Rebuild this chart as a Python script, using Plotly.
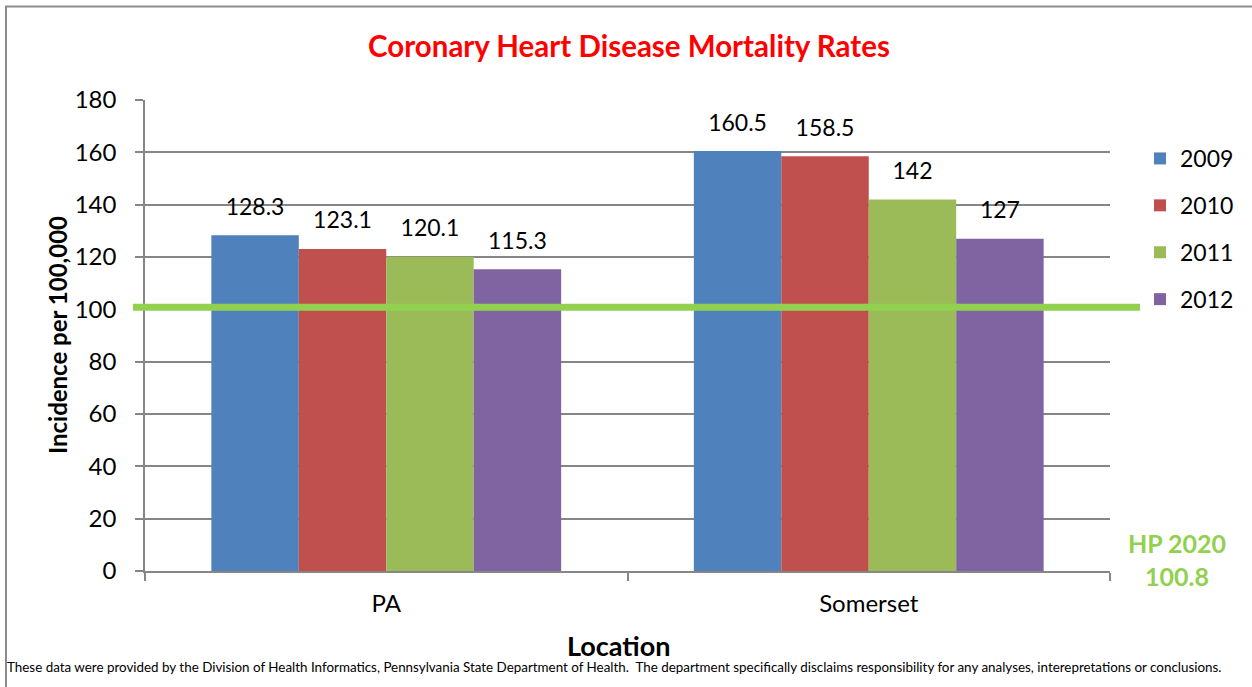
import plotly.graph_objects as go

# Mortality rates per 100,000 by location and year
locations = ["PA", "Somerset"]
years = ["2009", "2010", "2011", "2012"]
rates = {
    "2009": [128.3, 160.5],
    "2010": [123.1, 158.5],
    "2011": [120.1, 142],
    "2012": [115.3, 127],
}
colors = {"2009": "#4F81BD", "2010": "#C0504D", "2011": "#9BBB59", "2012": "#8064A2"}

hp2020_target = 100.8
y_ticks = [0, 20, 40, 60, 80, 100, 120, 140, 160, 180]

W, H = 1252, 687
L, R, T, B = 145, 1110, 100, 571  # plot area in pixels
pw, ph = R - L, B - T


def px_x(x):
    return (x - L) / pw


def px_y(y):
    return (B - y) / ph


FONT = "Lato, Open Sans, sans-serif"

fig = go.Figure()
for yr in years:
    fig.add_trace(go.Bar(
        x=locations, y=rates[yr], name=yr,
        marker=dict(color=colors[yr], line=dict(width=0)),
        offsetgroup=yr, legendgroup=yr,
    ))
# value labels placed above each bar
for yr in years:
    fig.add_trace(go.Scatter(
        x=locations, y=rates[yr], mode="markers+text",
        text=[f"{v:g}" for v in rates[yr]], textposition="top center",
        textfont=dict(size=23, color="#000000", family=FONT),
        marker=dict(size=22, color="rgba(0,0,0,0)"),
        offsetgroup=yr, showlegend=False, hoverinfo="skip",
    ))

fig.update_layout(
    width=W, height=H,
    margin=dict(l=L, r=W - R, t=T, b=H - B),
    paper_bgcolor="white", plot_bgcolor="white",
    barmode="group", bargap=0.275, bargroupgap=0,
    scattermode="group", scattergap=0.275,
    font=dict(family=FONT, size=20, color="#000000"),
    showlegend=True,
    legend=dict(
        x=px_x(1140), y=px_y(137), xanchor="left", yanchor="top",
        font=dict(size=23, family=FONT), tracegroupgap=14,
        itemwidth=30, bgcolor="rgba(0,0,0,0)",
    ),
    title=dict(
        text="<b>Coronary Heart Disease Mortality Rates</b>",
        x=px_x(629), xref="paper", y=1 - 47 / H, yref="container",
        xanchor="center", yanchor="middle",
        font=dict(size=29.5, color="#FF0000", family=FONT),
    ),
)

fig.update_xaxes(
    showline=True, linecolor="#868686", linewidth=1.5,
    ticks="outside", tickson="boundaries", ticklen=8, tickcolor="#868686", tickwidth=1.5,
    ticklabelstandoff=10, tickfont=dict(size=24, family=FONT),
    showgrid=False, zeroline=False,
)
fig.update_yaxes(
    range=[0, 180], tickvals=y_ticks,
    showline=True, linecolor="#868686", linewidth=1.5,
    ticks="outside", ticklen=8, tickcolor="#868686", tickwidth=1.5,
    ticklabelstandoff=14, tickfont=dict(size=24, family=FONT),
    showgrid=True, gridcolor="#868686", gridwidth=1.5, zeroline=False,
)

# outer chart border
fig.add_shape(type="rect", xref="paper", yref="paper",
              x0=px_x(6), x1=px_x(W + 20), y0=px_y(H + 20), y1=px_y(6.5),
              line=dict(color="#8C8C8C", width=2), fillcolor="rgba(0,0,0,0)", layer="below")

# Healthy People 2020 target line
fig.add_shape(type="line", xref="paper", yref="y",
              x0=px_x(133), x1=px_x(1140), y0=hp2020_target, y1=hp2020_target,
              line=dict(color="#92D050", width=7), layer="above")

fig.add_annotation(
    text=f"<b>HP 2020<br>{hp2020_target}</b>", xref="paper", yref="paper",
    x=px_x(1177), y=px_y(559), xanchor="center", yanchor="middle", showarrow=False,
    font=dict(size=25, color="#92D050", family=FONT),
)
fig.add_annotation(
    text="<b>Incidence per 100,000</b>", xref="paper", yref="paper",
    x=px_x(57), y=px_y(335), xanchor="center", yanchor="middle", textangle=-90,
    showarrow=False, font=dict(size=24, family=FONT),
)
fig.add_annotation(
    text="<b>Location</b>", xref="paper", yref="paper",
    x=px_x(618), y=px_y(645), xanchor="center", yanchor="middle",
    showarrow=False, font=dict(size=27, family=FONT),
)
fig.add_annotation(
    text=("These data were provided by the Division of Health Informatics, Pennsylvania State "
          "Department of Health.  The department specifically disclaims responsibility for any "
          "analyses, interepretations or conclusions."),
    xref="paper", yref="paper", x=px_x(5), y=px_y(667), xanchor="left", yanchor="middle",
    showarrow=False, font=dict(size=13.4, family=FONT),
)

fig.write_html("out.html")
